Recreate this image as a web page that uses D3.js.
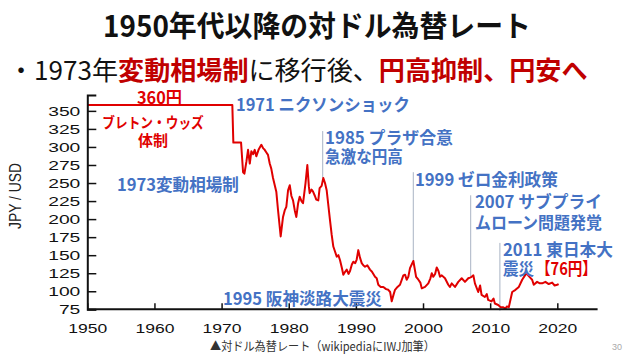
<!DOCTYPE html>
<html><head><meta charset="utf-8">
<script src="https://cdn.jsdelivr.net/npm/d3@7"></script>
<style>
html,body{margin:0;padding:0;background:#fff;}
svg{display:block;}
</style></head>
<body>
<svg id="c" width="640" height="360"></svg>
<script>
// ---------- data ----------
const years = [1950,1971.6,1971.75,1972.9,1973.2,1973.4,1973.7,1973.94,1974.2,1974.43,1974.7,1974.93,1975.17,1975.5,1975.92,1976.2,1976.42,1976.7,1976.91,1977.17,1977.4,1977.66,1978.15,1978.4,1978.8,1979.15,1979.4,1979.64,1979.9,1980.15,1980.4,1980.64,1980.9,1981.13,1981.4,1981.63,1981.9,1982.13,1982.5,1982.77,1983.0,1983.12,1983.4,1983.62,1983.9,1984.1,1984.4,1984.6,1984.9,1985.15,1985.4,1985.65,1986.14,1986.4,1986.64,1987.15,1987.4,1987.64,1987.9,1988.13,1988.4,1988.64,1988.9,1989.13,1989.4,1989.62,1989.9,1990.12,1990.36,1990.6,1990.87,1991.1,1991.36,1991.7,1992.1,1992.4,1992.85,1993.1,1993.34,1993.7,1994.09,1994.5,1994.83,1995.1,1995.34,1995.6,1995.83,1996.2,1996.57,1997.07,1997.32,1997.57,1997.81,1998.06,1998.3,1998.56,1998.97,1999.31,1999.6,1999.81,2000.3,2000.79,2001.1,2001.3,2001.53,2001.8,2002.04,2002.3,2002.53,2002.8,2003.27,2003.76,2004.0,2004.27,2004.76,2005.25,2005.76,2006.25,2006.74,2007.0,2007.24,2007.5,2007.73,2008.22,2008.5,2008.72,2009.21,2009.5,2009.7,2010.2,2010.5,2010.7,2011.2,2011.54,2011.9,2012.29,2012.5,2012.78,2013.28,2013.77,2014.27,2014.77,2015.26,2015.5,2015.75,2016.25,2016.49,2016.99,2017.4,2017.74,2018.23,2018.72,2019.23,2019.6,2019.97,2020.2];
const rates = [358,358,306,306,265,263,280,296,277,294,290,296,287,296,303,298,296,292,289,277,270,257,238,213,176,203,212,217,240,247,232,226,212,203,222,231,225,222,250,275,245,236,241,238,232,227,226,243,246,257,250,240,199,178,162,148,150,143,133,123,127,130,124,128,137,141,139,144,157,147,139,136,134,136,130,127,120,118,109,106,106,103,102,99,86,95,102,106,109,122,123,116,120,132,137,142,120,116,112,104,106,111,118,125,120,124,133,128,120,122,118,109,106,111,106,113,118,113,118,119,120,122,111,99,108,95,92,96,88,86,90,83,81,78,78,76,79,78,99,102,106,116,123,124,121,116,109,113,111,111,113,110,112,108,109,110];
const yTicks = [75,100,125,150,175,200,225,250,275,300,325,350];
const xTicks = [1950,1960,1970,1980,1990,2000,2010,2020];
const eventYears  = [1985.06, 1998.55, 2007.1, 2011.45];
const eventTop    = [322, 265, 233, 167];
const eventBottom = [257, 142, 120, 73];

const title = "1950年代以降の対ドル為替レート";
const subtitleParts = [["・1973年",0],["変動相場制",1],["に移行後、",0],["円高抑制、円安へ",1]];
const caption = "▲対ドル為替レート（wikipediaにIWJ加筆）";

// ---------- drawing ----------
const svg = d3.select("#c");
const JP = "'Noto Sans CJK JP','Noto Sans',sans-serif";
const LAT = "'Liberation Sans',Arial,sans-serif";
const BLUE = "#4472c4", RED = "#e00000", DRED = "#c00000";

const x = d3.scaleLinear().domain([1950, 2026]).range([87.3, 597.6]);
const y = d3.scaleLinear().domain([75, 372]).range([309.3, 95]);

function fit(t, w, anchor) {
  const bb = t.node().getBBox();
  const k = w / bb.width;
  let px = bb.x;
  if (anchor === "middle") px = bb.x + bb.width / 2;
  if (anchor === "end") px = bb.x + bb.width;
  t.attr("transform", `translate(${px},0) scale(${k},1) translate(${-px},0)`);
  return t;
}
function label(txt, px, py, opt) {
  const t = svg.append("text").attr("x", px).attr("y", py)
    .attr("font-family", opt.family || JP)
    .attr("font-size", opt.size)
    .attr("font-weight", opt.weight || "bold")
    .attr("fill", opt.color)
    .attr("text-anchor", opt.anchor || "start")
    .text(txt);
  if (opt.w) fit(t, opt.w, opt.anchor || "start");
  return t;
}

// title
label(title, 317, 37, {size: 29, color: "#111", anchor: "middle", w: 428});
// subtitle
const st = svg.append("text").attr("x", 8).attr("y", 80)
  .attr("font-family", JP).attr("font-size", 26);
st.selectAll("tspan").data(subtitleParts).join("tspan")
  .text(d => d[0])
  .attr("fill", d => d[1] ? DRED : "#111")
  .attr("font-weight", d => d[1] ? "bold" : "normal");
fit(st, 580, "start");

// event guide lines
svg.append("g").selectAll("line").data(eventYears).join("line")
  .attr("x1", d => x(d)).attr("x2", d => x(d))
  .attr("y1", (d, i) => y(eventTop[i])).attr("y2", (d, i) => y(eventBottom[i]))
  .attr("stroke", "#a9b3c4").attr("stroke-width", 1);

// rate line
const pts = years.map((yr, i) => [yr, rates[i]]);
svg.append("path").datum(pts)
  .attr("d", d3.line().x(d => x(d[0])).y(d => y(d[1])))
  .attr("fill", "none").attr("stroke", RED).attr("stroke-width", 2)
  .attr("stroke-linejoin", "round");

// axes
const yAxis = d3.axisLeft(y).tickValues(yTicks).tickSize(-9).tickPadding(7).tickFormat(d3.format("d"));
const gy = svg.append("g").attr("transform", `translate(${x(1950)},0)`).call(yAxis);
const xAxis = d3.axisBottom(x).tickValues(xTicks).tickSize(-6).tickPadding(14).tickFormat(d3.format("d"));
const gx = svg.append("g").attr("transform", `translate(0,${y(75)})`).call(xAxis);
[gx, gy].forEach(g => {
  g.select(".domain").attr("stroke", "#111").attr("stroke-width", 2);
  g.selectAll(".tick line").attr("stroke", "#111").attr("stroke-width", 1.5);
});
gy.selectAll(".tick text").attr("font-family", LAT).attr("font-size", 12.5).attr("fill", "#111")
  .attr("x", -7).attr("dy", "0.36em")
  .each(function(d){ d3.select(this).attr("textLength", String(d).length * 10.7).attr("lengthAdjust","spacingAndGlyphs"); });
gx.selectAll(".tick text").attr("font-family", LAT).attr("font-size", 13).attr("fill", "#111")
  .attr("dy", "0.71em").attr("y", 14)
  .attr("textLength", 39).attr("lengthAdjust", "spacingAndGlyphs");
gx.select(".domain").attr("d", `M${x(1950)},0H${x(2026)}`);

// y axis title
svg.append("text").attr("transform", "translate(21,196) rotate(-90)")
  .attr("text-anchor", "middle").attr("font-family", LAT).attr("font-size", 16.5)
  .attr("fill", "#222").attr("textLength", 66).attr("lengthAdjust", "spacingAndGlyphs")
  .text("JPY / USD");

// annotations
label("360円", 137, 104, {size: 16.5, color: RED, w: 45});
label("ブレトン・ウッズ", 153, 128, {size: 14.5, color: RED, anchor: "middle", w: 102});
label("体制", 153, 146, {size: 14.5, color: RED, anchor: "middle", w: 30});
label("1971 ニクソンショック", 236, 111, {size: 17, color: BLUE, w: 174});
label("1973変動相場制", 117, 191, {size: 17, color: BLUE, w: 122});
label("1985 プラザ合意", 325, 144, {size: 17, color: BLUE, w: 128});
label("急激な円高", 325, 163, {size: 17, color: BLUE, w: 78});
label("1999 ゼロ金利政策", 415, 186, {size: 17, color: BLUE, w: 143});
label("2007 サブプライ", 475, 208, {size: 17, color: BLUE, w: 127});
label("ムローン問題発覚", 475, 229, {size: 17, color: BLUE, w: 127});
label("2011 東日本大", 503, 256, {size: 17, color: BLUE, w: 110});
label("震災", 503, 275, {size: 17, color: BLUE, w: 31});
label("【76円】", 536, 275, {size: 17, color: RED, w: 61});
label("1995 阪神淡路大震災", 223, 305, {size: 17, color: BLUE, w: 159});

// caption & page number
label(caption, 210, 351, {size: 12, color: "#333", weight: "normal", w: 225});
label("30", 612, 350, {size: 9, color: "#aaa", weight: "normal", family: LAT});
</script>
</body></html>
